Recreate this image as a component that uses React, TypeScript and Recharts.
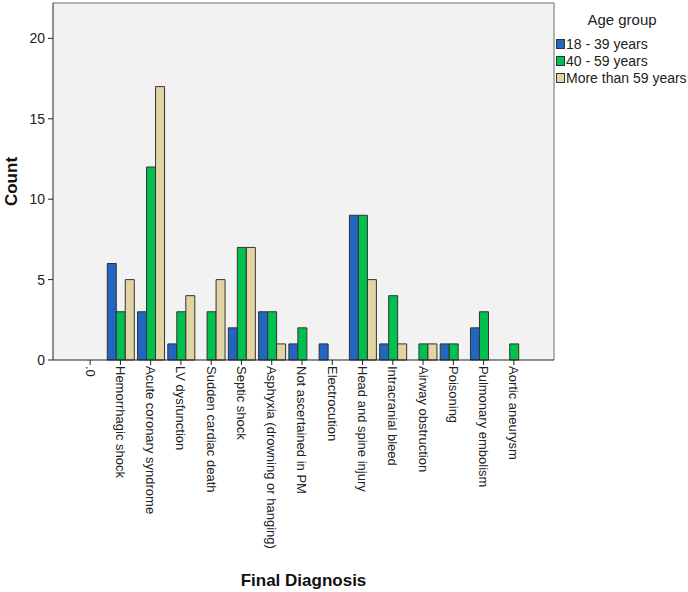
import React from "react";
import {
    BarChart,
    Bar,
    XAxis,
    YAxis,
    CartesianGrid,
    Legend,
    Label,
} from "recharts";

// categories on the x axis (the first one is the empty ".0" code)
const diagnoses = [
    ".0",
    "Hemorrhagic shock",
    "Acute coronary syndrome",
    "LV dysfunction",
    "Sudden cardiac death",
    "Septic shock",
    "Asphyxia (drowning or hanging)",
    "Not ascertained in PM",
    "Electrocution",
    "Head and spine injury",
    "Intracranial bleed",
    "Airway obstruction",
    "Poisoning",
    "Pulmonary embolism",
    "Aortic aneurysm",
];

// counts per age group, same order as diagnoses
const age18to39 = [0, 6, 3, 1, 0, 2, 3, 1, 1, 9, 1, 0, 1, 2, 0];
const age40to59 = [0, 3, 12, 3, 3, 7, 3, 2, 0, 9, 4, 1, 1, 3, 1];
const ageOver59 = [0, 5, 17, 4, 5, 7, 1, 0, 0, 5, 1, 1, 0, 0, 0];

const yTicks = [0, 5, 10, 15, 20];

const groups = [
    { key: "g1", name: "18 - 39 years", color: "#2166bf" },
    { key: "g2", name: "40 - 59 years", color: "#00c050" },
    { key: "g3", name: "More than 59 years", color: "#e1d5a6" },
];

const FONT = "'Liberation Sans', Arial, sans-serif";

const data = diagnoses.map((d, i) => ({
    diagnosis: d,
    g1: age18to39[i],
    g2: age40to59[i],
    g3: ageOver59[i],
}));

// x labels are turned 90deg and read top to bottom
const RotatedTick = (props: any) => {
    const { x, y, payload } = props;
    return (
        <g transform={`translate(${x},${y})`}>
            <text
                transform="rotate(90)"
                x={0}
                y={0}
                dy="0.35em"
                textAnchor="start"
                fontSize={13}
                fontFamily={FONT}
                fill="#222"
            >
                {payload.value}
            </text>
        </g>
    );
};

const CountLabel = (props: any) => {
    const { viewBox } = props;
    const cx = viewBox.x + 11;
    const cy = viewBox.y + viewBox.height / 2;
    return (
        <text
            x={cx}
            y={cy}
            transform={`rotate(-90, ${cx}, ${cy})`}
            textAnchor="middle"
            dominantBaseline="central"
            fontSize={17}
            fontWeight="bold"
            fontFamily={FONT}
            fill="#111"
        >
            Count
        </text>
    );
};

const LegendBox = () => (
    <div style={{ fontFamily: FONT, color: "#222" }}>
        <div
            style={{
                fontSize: 15,
                height: 20,
                lineHeight: "20px",
                textAlign: "center",
                marginBottom: 5,
            }}
        >
            Age group
        </div>
        {groups.map((g) => (
            <div
                key={g.key}
                style={{
                    display: "flex",
                    alignItems: "center",
                    height: 17,
                    fontSize: 14,
                    whiteSpace: "nowrap",
                }}
            >
                <span
                    style={{
                        display: "inline-block",
                        width: 7,
                        height: 8,
                        background: g.color,
                        border: "1px solid #333",
                        marginRight: 1,
                    }}
                />
                {g.name}
            </div>
        ))}
    </div>
);

export default function App() {
    return (
        <div style={{ position: "absolute", left: 0, top: 0, background: "#fff" }}>
            <BarChart
                width={688}
                height={592}
                data={data}
                margin={{ top: 3, right: 134, bottom: 0, left: 0 }}
                barGap={0}
                barSize={9}
            >
                <CartesianGrid
                    fill="#f2f2f2"
                    stroke="#9a9a9a"
                    strokeWidth={1.5}
                    horizontalCoordinatesGenerator={({ offset }: any) => [offset.top]}
                    verticalCoordinatesGenerator={({ offset }: any) => [
                        offset.left + offset.width,
                    ]}
                />
                <XAxis
                    dataKey="diagnosis"
                    interval={0}
                    height={232}
                    padding={{ left: 22, right: 25 }}
                    tick={<RotatedTick />}
                    tickSize={5}
                    tickMargin={1}
                    axisLine={{ stroke: "#222" }}
                    tickLine={{ stroke: "#222" }}
                >
                    <Label
                        value="Final Diagnosis"
                        position="insideBottom"
                        offset={6}
                        style={{
                            fontSize: 17,
                            fontWeight: "bold",
                            fontFamily: FONT,
                            fill: "#111",
                        }}
                    />
                </XAxis>
                <YAxis
                    width={53}
                    domain={[0, 22.2]}
                    ticks={yTicks}
                    tickSize={5}
                    tickMargin={3}
                    axisLine={{ stroke: "#222" }}
                    tickLine={{ stroke: "#222" }}
                    tick={{ fontSize: 14, fontFamily: FONT, fill: "#222" }}
                >
                    <Label content={<CountLabel />} />
                </YAxis>
                <Legend
                    layout="vertical"
                    align="center"
                    verticalAlign="middle"
                    wrapperStyle={{ left: 556, top: 10, width: 132 }}
                    content={<LegendBox />}
                />
                {groups.map((g) => (
                    <Bar
                        key={g.key}
                        dataKey={g.key}
                        name={g.name}
                        fill={g.color}
                        stroke="#333"
                        strokeWidth={1}
                        isAnimationActive={false}
                    />
                ))}
            </BarChart>
        </div>
    );
}
